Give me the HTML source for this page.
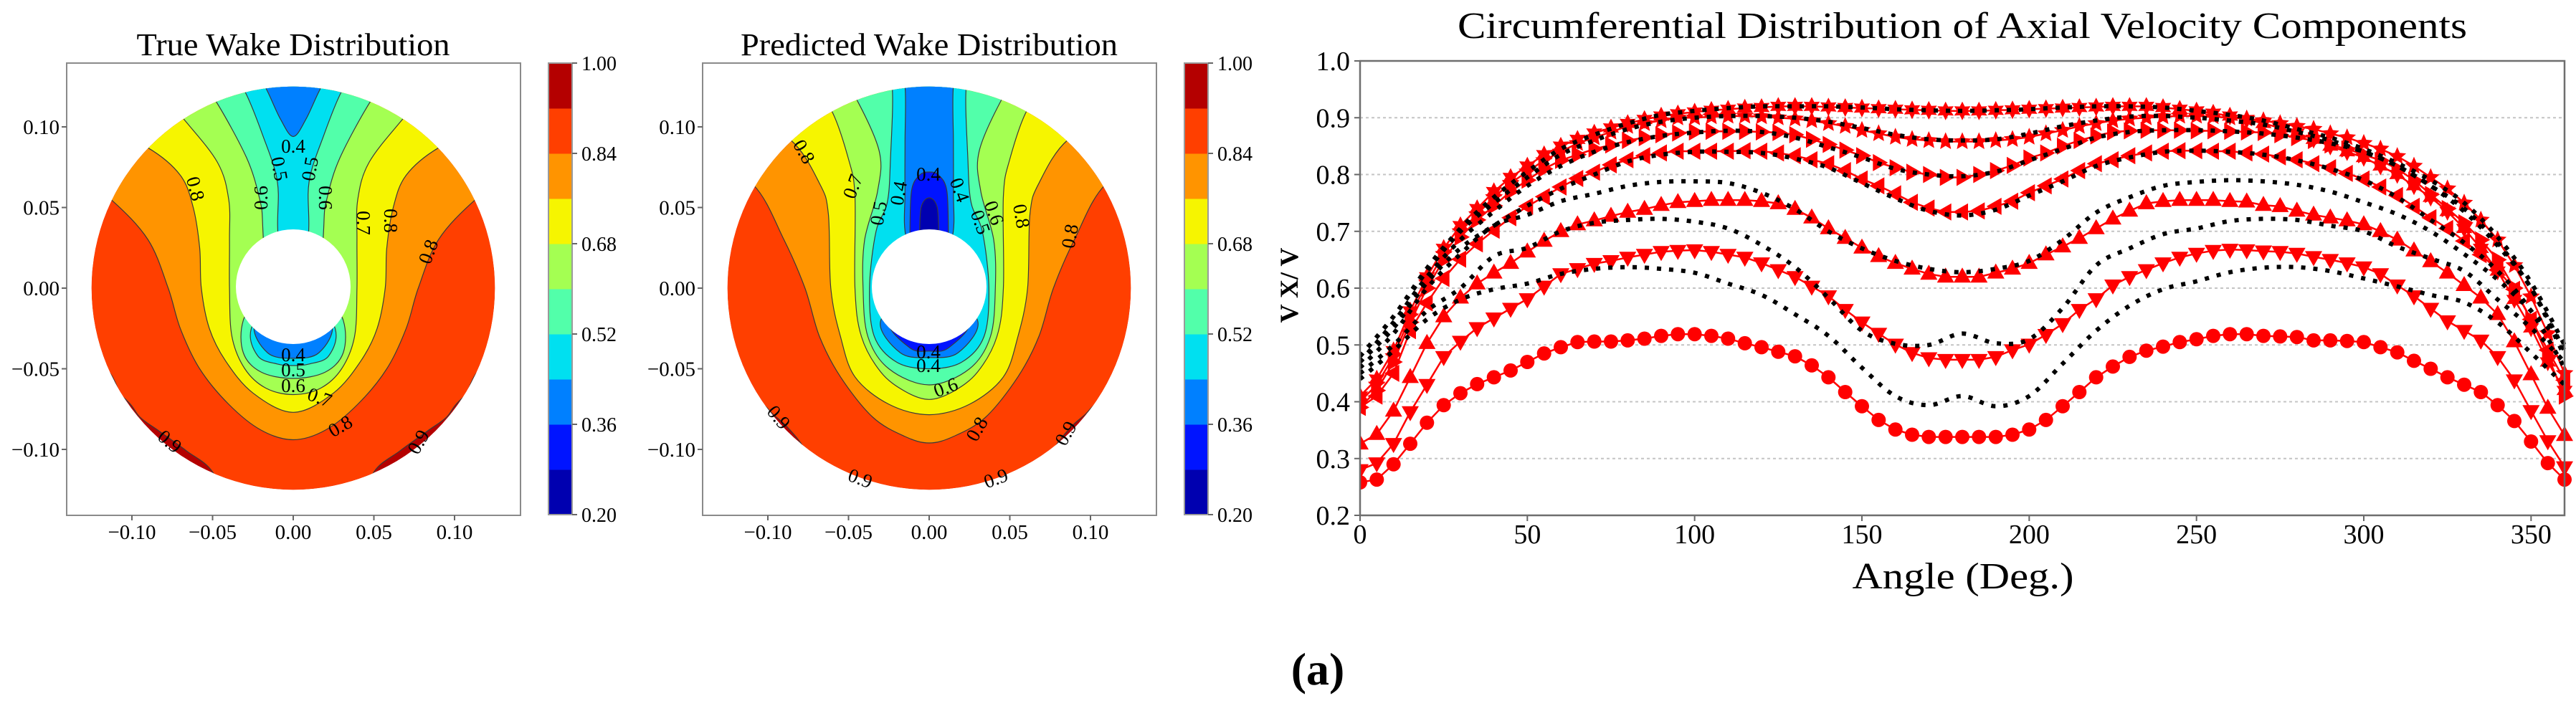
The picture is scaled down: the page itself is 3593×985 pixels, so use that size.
<!DOCTYPE html>
<html><head><meta charset="utf-8"><title>Wake Distribution</title>
<style>
html,body{margin:0;padding:0;background:#fff;}
svg{display:block;font-family:"Liberation Serif","Times New Roman",serif;}
</style></head>
<body>
<svg id="fig" xmlns="http://www.w3.org/2000/svg" width="3593" height="985" viewBox="0 0 3593 985">
<rect x="0" y="0" width="3593" height="985" fill="#fff"/>
<text x="409" y="77" font-size="44" text-anchor="middle" textLength="437" lengthAdjust="spacingAndGlyphs">True Wake Distribution</text>
<text x="1296" y="77" font-size="44" text-anchor="middle" textLength="526" lengthAdjust="spacingAndGlyphs">Predicted Wake Distribution</text>
<text x="2737" y="53" font-size="52" text-anchor="middle" textLength="1408" lengthAdjust="spacingAndGlyphs">Circumferential Distribution of Axial Velocity Components</text>
<text x="2738" y="821" font-size="52" text-anchor="middle" textLength="309" lengthAdjust="spacingAndGlyphs">Angle (Deg.)</text>
<text transform="translate(1810,398) rotate(-90)" font-size="36" font-weight="bold" text-anchor="middle">V X/ V</text>
<text x="1838" y="955" font-size="64" font-weight="bold" text-anchor="middle">(a)</text>
<g id="panels"></g>
<g id="chart"></g>
</svg>
<script>
// ===== Line chart data (angle every 5 deg for red, 10 deg for black) =====
const xTickLabels = [0,50,100,150,200,250,300,350];
const yTickLabels = [0.2,0.3,0.4,0.5,0.6,0.7,0.8,0.9,1.0];
const gridValues = [0.3,0.4,0.5,0.6,0.7,0.8,0.9];
const predAngles = Array.from({length:73},(_,i)=>i*5);
const trueAngles = Array.from({length:37},(_,i)=>i*10);
const predCircle = [0.258,0.263,0.29,0.326,0.363,0.394,0.415,0.431,0.443,0.455,0.47,0.485,0.496,0.505,0.506,0.506,0.508,0.511,0.516,0.519,0.519,0.516,0.511,0.503,0.496,0.488,0.48,0.464,0.443,0.417,0.392,0.368,0.351,0.342,0.338,0.338,0.338,
 0.338,0.338,0.342,0.351,0.368,0.392,0.417,0.443,0.462,0.479,0.49,0.497,0.505,0.51,0.516,0.519,0.519,0.516,0.515,0.514,0.508,0.508,0.507,0.505,0.496,0.487,0.472,0.458,0.443,0.43,0.417,0.394,0.366,0.33,0.292,0.263];
const predDown = [0.28,0.292,0.326,0.382,0.43,0.479,0.506,0.53,0.547,0.564,0.581,0.603,0.625,0.634,0.643,0.648,0.654,0.659,0.664,0.666,0.667,0.664,0.659,0.654,0.644,0.632,0.62,0.603,0.586,0.562,0.54,0.52,0.501,0.486,0.477,0.474,0.474,
 0.474,0.479,0.491,0.501,0.518,0.537,0.562,0.581,0.605,0.62,0.632,0.644,0.654,0.661,0.666,0.668,0.667,0.665,0.664,0.661,0.655,0.65,0.644,0.637,0.625,0.605,0.586,0.564,0.542,0.525,0.508,0.479,0.438,0.384,0.331,0.285];
const predUp = [0.326,0.343,0.384,0.443,0.503,0.55,0.583,0.608,0.627,0.644,0.664,0.683,0.70,0.712,0.719,0.727,0.734,0.739,0.746,0.751,0.753,0.755,0.755,0.755,0.753,0.749,0.739,0.724,0.705,0.688,0.671,0.656,0.644,0.634,0.625,0.62,0.62,
 0.62,0.627,0.634,0.644,0.659,0.673,0.688,0.705,0.722,0.736,0.749,0.753,0.755,0.755,0.755,0.753,0.752,0.746,0.744,0.736,0.729,0.724,0.719,0.712,0.70,0.685,0.666,0.647,0.627,0.605,0.583,0.554,0.506,0.448,0.389,0.341];
const predLeft = [0.39,0.41,0.45,0.525,0.574,0.617,0.651,0.678,0.702,0.724,0.744,0.761,0.778,0.793,0.804,0.817,0.826,0.833,0.838,0.841,0.841,0.841,0.841,0.842,0.841,0.838,0.833,0.826,0.819,0.807,0.792,0.78,0.766,0.751,0.741,0.734,0.734,
 0.736,0.744,0.753,0.768,0.78,0.792,0.807,0.819,0.826,0.833,0.838,0.841,0.842,0.842,0.841,0.841,0.838,0.836,0.831,0.826,0.819,0.812,0.802,0.792,0.778,0.763,0.744,0.724,0.705,0.683,0.659,0.632,0.598,0.545,0.491,0.438];
const predRight = [0.39,0.42,0.47,0.54,0.60,0.65,0.69,0.72,0.745,0.77,0.79,0.81,0.825,0.835,0.845,0.852,0.86,0.865,0.87,0.873,0.875,0.876,0.876,0.876,0.875,0.874,0.87,0.862,0.853,0.843,0.833,0.821,0.812,0.804,0.80,0.795,0.795,
 0.80,0.807,0.816,0.829,0.838,0.85,0.86,0.868,0.875,0.877,0.878,0.878,0.878,0.877,0.877,0.876,0.875,0.874,0.87,0.865,0.86,0.852,0.845,0.835,0.825,0.81,0.79,0.765,0.74,0.715,0.685,0.65,0.60,0.545,0.48,0.41];
const predStar = [0.40,0.43,0.48,0.55,0.61,0.66,0.70,0.73,0.76,0.785,0.805,0.825,0.84,0.855,0.865,0.875,0.885,0.89,0.895,0.9,0.9,0.902,0.903,0.903,0.902,0.9,0.898,0.895,0.89,0.885,0.878,0.872,0.866,0.862,0.86,0.858,0.858,
 0.858,0.86,0.862,0.866,0.872,0.878,0.885,0.89,0.895,0.898,0.9,0.902,0.903,0.903,0.902,0.9,0.898,0.895,0.89,0.885,0.88,0.872,0.865,0.855,0.845,0.832,0.815,0.795,0.775,0.75,0.72,0.685,0.64,0.585,0.52,0.45];
const predTop = [0.41,0.44,0.49,0.56,0.62,0.67,0.71,0.74,0.77,0.795,0.815,0.835,0.85,0.862,0.873,0.882,0.89,0.897,0.903,0.907,0.91,0.913,0.915,0.917,0.918,0.92,0.92,0.92,0.919,0.918,0.917,0.916,0.915,0.914,0.913,0.912,0.912,
 0.912,0.913,0.914,0.915,0.916,0.917,0.918,0.919,0.92,0.92,0.92,0.918,0.915,0.912,0.908,0.903,0.897,0.89,0.882,0.873,0.862,0.85,0.84,0.83,0.815,0.80,0.78,0.76,0.735,0.705,0.67,0.63,0.58,0.53,0.47,0.42];
const trueA = [0.44,0.49,0.545,0.58,0.598,0.608,0.625,0.634,0.637,0.634,0.627,0.608,0.588,0.554,0.516,0.46,0.41,0.394,0.41,0.392,0.41,0.467,0.525,0.569,0.598,0.612,0.628,0.636,0.637,0.63,0.617,0.603,0.588,0.575,0.54,0.486,0.43];
const trueB = [0.45,0.50,0.56,0.60,0.656,0.671,0.70,0.715,0.72,0.722,0.717,0.705,0.676,0.637,0.583,0.525,0.502,0.50,0.52,0.503,0.51,0.565,0.64,0.67,0.695,0.705,0.718,0.722,0.72,0.71,0.70,0.673,0.652,0.63,0.58,0.53,0.47];
const trueC = [0.46,0.52,0.60,0.66,0.71,0.729,0.753,0.766,0.78,0.787,0.788,0.785,0.768,0.739,0.70,0.67,0.648,0.634,0.628,0.634,0.648,0.685,0.733,0.76,0.78,0.787,0.79,0.788,0.782,0.77,0.751,0.73,0.70,0.66,0.615,0.56,0.5];
const trueD = [0.47,0.53,0.61,0.67,0.71,0.745,0.775,0.80,0.823,0.835,0.84,0.84,0.838,0.828,0.812,0.785,0.758,0.736,0.728,0.738,0.763,0.788,0.815,0.83,0.84,0.842,0.84,0.835,0.825,0.81,0.79,0.76,0.72,0.68,0.63,0.56,0.46];
const trueE = [0.47,0.54,0.62,0.685,0.735,0.78,0.815,0.84,0.857,0.868,0.874,0.877,0.875,0.865,0.848,0.83,0.81,0.80,0.797,0.805,0.825,0.845,0.865,0.875,0.878,0.878,0.876,0.872,0.865,0.855,0.84,0.815,0.78,0.735,0.675,0.6,0.48];
const trueF = [0.48,0.55,0.63,0.70,0.75,0.795,0.835,0.86,0.88,0.893,0.9,0.903,0.903,0.9,0.893,0.882,0.87,0.862,0.86,0.862,0.872,0.885,0.895,0.902,0.903,0.9,0.895,0.888,0.875,0.86,0.84,0.815,0.78,0.74,0.68,0.6,0.49];
const trueG = [0.48,0.55,0.635,0.705,0.76,0.805,0.845,0.87,0.89,0.905,0.912,0.917,0.92,0.92,0.92,0.918,0.915,0.913,0.912,0.913,0.915,0.918,0.92,0.92,0.918,0.912,0.905,0.895,0.88,0.865,0.845,0.82,0.79,0.75,0.69,0.61,0.5];

// ===== Contour colour levels =====
const cbarLevels = [0.20,0.28,0.36,0.44,0.52,0.60,0.68,0.76,0.84,0.92,1.00];
const cbarTickLabels = ["0.20","0.36","0.52","0.68","0.84","1.00"];
const bandColors = ["#0000b0","#0014ff","#0080ff","#00e0f0","#52ffaa","#a4ff52","#f6f500","#ff9400","#ff3f00","#b40000"];
const panelTickLabels = ["-0.10","-0.05","0.00","0.05","0.10"];

const NS="http://www.w3.org/2000/svg";
function mk(tag,attrs,parent){const e=document.createElementNS(NS,tag);for(const k in attrs)e.setAttribute(k,attrs[k]);if(parent)parent.appendChild(e);return e;}

// ===== Right chart axes =====
const X0=1897,X1=3577,YT=85,YB=719;
const xs=a=>X0+a/360*(X1-X0);
const ys=v=>YB-(v-0.2)/0.8*(YB-YT);
const chart=document.getElementById('chart');

gridValues.forEach(v=>{
  const l=mk('line',{x1:X0,x2:X1,y1:ys(v),y2:ys(v),stroke:'#c4c4c4','stroke-width':2,'stroke-dasharray':'4 4'},chart);
  
  
});
yTickLabels.forEach(v=>{
  const t=mk('line',{x1:X0-8,x2:X0,y1:ys(v),y2:ys(v),stroke:'#666','stroke-width':2},chart);
  
  
  const tx=mk('text',{x:1883,y:ys(v)+13,'font-size':38,'text-anchor':'end'},chart);
  
  
  tx.textContent=v.toFixed(1);
});
xTickLabels.forEach(a=>{
  const t=mk('line',{x1:xs(a),x2:xs(a),y1:YB,y2:YB+8,stroke:'#666','stroke-width':2},chart);
  
  
  const tx=mk('text',{x:xs(a),y:758,'font-size':38,'text-anchor':'middle'},chart);
  
  
  tx.textContent=String(a);
});

function crPath(pts){
  let d='M'+pts[0][0].toFixed(1)+','+pts[0][1].toFixed(1);
  for(let i=0;i<pts.length-1;i++){
    const p0=pts[Math.max(0,i-1)],p1=pts[i],p2=pts[i+1],p3=pts[Math.min(pts.length-1,i+2)];
    const c1=[p1[0]+(p2[0]-p0[0])/6,p1[1]+(p2[1]-p0[1])/6];
    const c2=[p2[0]-(p3[0]-p1[0])/6,p2[1]-(p3[1]-p1[1])/6];
    d+='C'+c1[0].toFixed(1)+','+c1[1].toFixed(1)+' '+c2[0].toFixed(1)+','+c2[1].toFixed(1)+' '+p2[0].toFixed(1)+','+p2[1].toFixed(1);
  }
  return d;
}
function starPts(n,ro,ri){const a=[];for(let i=0;i<2*n;i++){const r=i%2?ri:ro,t=Math.PI*i/n-Math.PI/2;a.push((r*Math.cos(t)).toFixed(1)+','+(r*Math.sin(t)).toFixed(1));}return a.join(' ');}
const markerShapes={
  circle:null,
  up:'0,-13 12,8 -12,8',
  down:'0,13 12,-8 -12,-8',
  left:'-13,0 8,-12 8,12',
  right:'13,0 -8,-12 -8,12',
  star:starPts(5,13,6),
  hex:starPts(6,13,7)
};
const plotG=mk('g',{'clip-path':'url(#plotClip)'},chart);


const defs=mk('defs',{},document.getElementById('fig'));
const pc=mk('clipPath',{id:'plotClip'},defs);
mk('rect',{x:X0,y:YT-20,width:X1-X0+14,height:YB-YT+20},pc);

const predSeries=[[predCircle,'circle'],[predDown,'down'],[predUp,'up'],[predLeft,'left'],[predRight,'right'],[predStar,'star'],[predTop,'hex']];
predSeries.forEach(([vals,m],si)=>{
  const g=mk('g',{},plotG);
  
  
  const pts=vals.map((v,i)=>[xs(predAngles[i]),ys(v)]);
  const pl=mk('polyline',{points:pts.map(p=>p[0].toFixed(1)+','+p[1].toFixed(1)).join(' '),fill:'none',stroke:'#ff0000','stroke-width':2.5},g);
  
  
  pts.forEach(p=>{
    let e;
    if(m==='circle') e=mk('circle',{cx:p[0].toFixed(1),cy:p[1].toFixed(1),r:10,fill:'#ff0000'},g);
    else e=mk('polygon',{points:markerShapes[m],transform:'translate('+p[0].toFixed(1)+','+p[1].toFixed(1)+')',fill:'#ff0000'},g);
    
    
  });
});
[trueA,trueB,trueC,trueD,trueE,trueF,trueG].forEach((vals,si)=>{
  const pts=vals.map((v,i)=>[xs(trueAngles[i]),ys(v)]);
  const p=mk('path',{d:crPath(pts),fill:'none',stroke:'#000','stroke-width':6,'stroke-dasharray':'6 11'},plotG);
  
  
});
const frame=mk('rect',{x:X0,y:YT,width:X1-X0,height:YB-YT,fill:'none',stroke:'#6e6e6e','stroke-width':2.5},chart);



// ===== Contour panels =====
const S=2250;
const trueShapes=[
 [0.92,[[-0.3,0.2],[-0.3,-0.04],[-0.14,-0.04],[-0.105,-0.068],[-0.095,-0.08],[-0.083,-0.0887],[-0.066,-0.101],[-0.05,-0.114],[-0.04,-0.14],[0,-0.17]]],
 [0.84,[[-0.3,0.2],[-0.3,0.09],[-0.14,0.075],[-0.113,0.055],[-0.09,0.03],[-0.0775,0],[-0.07,-0.025],[-0.058,-0.05],[-0.04,-0.072],[-0.02,-0.088],[0,-0.094]]],
 [0.76,[[-0.2,0.2],[-0.2,0.11],[-0.12,0.1],[-0.09,0.087],[-0.07,0.07],[-0.062,0.05],[-0.058,0.025],[-0.057,0],[-0.052,-0.025],[-0.042,-0.045],[-0.025,-0.065],[0,-0.077]]],
 [0.68,[[-0.15,0.2],[-0.09,0.13],[-0.068,0.105],[-0.047,0.078],[-0.04,0.055],[-0.0395,0.03],[-0.0395,0],[-0.038,-0.03],[-0.03,-0.05],[-0.017,-0.062],[0,-0.066]]],
 [0.60,[[-0.1,0.2],[-0.06,0.13],[-0.048,0.116],[-0.029,0.081],[-0.021,0.056],[-0.019,0.04],[-0.019,0],[-0.031,-0.02],[-0.031,-0.04],[-0.02,-0.052],[0,-0.056]]],
 [0.52,[[-0.08,0.2],[-0.04,0.135],[-0.03,0.122],[-0.019,0.095],[-0.01,0.067],[-0.0097,0.04],[-0.01,0],[-0.026,-0.025],[-0.022,-0.042],[-0.01,-0.047],[0,-0.048]]],
 [0.44,[[-0.05,0.2],[-0.025,0.135],[-0.017,0.124],[-0.008,0.105],[0,0.094]]],
 [0.44,[[-0.005,0],[-0.024,-0.022],[-0.016,-0.04],[0,-0.0435]]]
];
const predShapes=[
 [0.92,[[-0.3,0.2],[-0.3,-0.04],[-0.14,-0.04],[-0.106,-0.069],[-0.097,-0.078],[-0.088,-0.086],[-0.077,-0.1],[-0.06,-0.13],[0,-0.17]]],
 [0.84,[[-0.3,0.2],[-0.3,0.09],[-0.14,0.08],[-0.109,0.064],[-0.09,0.03],[-0.077,0],[-0.068,-0.03],[-0.055,-0.055],[-0.035,-0.08],[-0.015,-0.092],[0,-0.096]]],
 [0.76,[[-0.2,0.2],[-0.12,0.11],[-0.086,0.092],[-0.068,0.065],[-0.0625,0.046],[-0.061,0],[-0.055,-0.03],[-0.046,-0.055],[-0.025,-0.072],[0,-0.0785]]],
 [0.68,[[-0.15,0.2],[-0.075,0.125],[-0.061,0.111],[-0.05,0.08],[-0.046,0.057],[-0.046,0],[-0.042,-0.03],[-0.03,-0.052],[-0.015,-0.064],[0,-0.069]]],
 [0.60,[[-0.1,0.2],[-0.055,0.13],[-0.046,0.119],[-0.031,0.085],[-0.032,0.06],[-0.04,0.03],[-0.041,0],[-0.038,-0.03],[-0.025,-0.05],[0,-0.06]]],
 [0.52,[[-0.08,0.2],[-0.03,0.135],[-0.023,0.125],[-0.024,0.08],[-0.026,0.053],[-0.033,0.035],[-0.037,0],[-0.034,-0.03],[-0.02,-0.046],[0,-0.05]]],
 [0.44,[[-0.05,0.2],[-0.02,0.135],[-0.015,0.125],[-0.015,0.09],[-0.015,0.06],[-0.014,0.03],[0,0]]],
 [0.36,[[-0.012,0.03],[-0.011,0.06],[-0.006,0.07],[0,0.072]]],
 [0.28,[[-0.006,0.03],[-0.005,0.05],[0,0.056]]],
 [0.44,[[-0.005,0],[-0.03,-0.02],[-0.018,-0.04],[0,-0.043]]],
 [0.36,[[-0.004,0],[-0.025,-0.02],[-0.012,-0.037],[0,-0.039]]]
];
const trueLabels=[["0.4",409,207,0],["0.5",387,236,80],["0.5",435,236,-80],["0.6",367,276,-90],["0.6",451,276,90],["0.8",270,264,75],["0.7",504,311,90],["0.8",542,308,90],["0.8",600,352,-70],["0.4",409,498,0],["0.5",409,519,0],["0.6",409,541,0],["0.7",445,557,20],["0.8",476,597,-30],["0.9",235,618,40],["0.9",586,618,-60]];
const predLabels=[["0.8",1119,213,60],["0.7",1192,261,-70],["0.4",1295,246,0],["0.5",1228,298,-80],["0.4",1256,270,-80],["0.4",1336,266,70],["0.6",1384,298,70],["0.5",1365,311,70],["0.8",1422,302,80],["0.8",1495,330,-80],["0.4",1295,494,0],["0.4",1295,513,0],["0.6",1320,543,-20],["0.8",1365,600,-60],["0.9",1084,584,50],["0.9",1489,606,-60],["0.9",1199,670,20],["0.9",1390,670,-20]];

function bandColorFor(level){const i=cbarLevels.findIndex(l=>Math.abs(l-level)<1e-6);return bandColors[i-1];}
function shapePath(cx,cy,pts){
  const full=pts.slice();
  for(let i=pts.length-1;i>=0;i--){ if(i===pts.length-1&&pts[i][0]===0)continue; full.push([-pts[i][0],pts[i][1]]); }
  return crPath(full.map(p=>[cx+p[0]*S,cy-p[1]*S]))+'Z';
}
const panels=document.getElementById('panels');
function drawPanel(id,bx,cx,cy,shapes,labels){
  const g=mk('g',{},panels);
  
  
  const cp=mk('clipPath',{id:id+'Clip'},defs);
  mk('circle',{cx:cx,cy:cy,r:0.125*S},cp);
  const box=mk('rect',{x:bx,y:88,width:633,height:631,fill:'none',stroke:'#8a8a8a','stroke-width':2},g);
  
  
  const cg=mk('g',{'clip-path':'url(#'+id+'Clip)'},g);
  
  
  const base=mk('circle',{cx:cx,cy:cy,r:0.125*S,fill:bandColors[9]},cg);
  
  
  shapes.forEach(([lv,pts])=>{
    const p=mk('path',{d:shapePath(cx,cy,pts),fill:bandColorFor(lv),stroke:'#3a3a3a','stroke-width':1.2},cg);
    
    
  });
  const hub=mk('circle',{cx:cx,cy:cy-2,r:80,fill:'#fff'},g);
  
  
  labels.forEach(([t,x,y,r])=>{
    const tx=mk('text',{x:x,y:y,'font-size':27,'text-anchor':'middle','dominant-baseline':'middle',transform:'rotate('+r+' '+x+' '+y+')'},g);
    
    
    tx.textContent=t;
  });
  const tickVals=[-0.1,-0.05,0,0.05,0.1];
  tickVals.forEach((v,i)=>{
    const lab=panelTickLabels[i].replace('-','\u2212');
    const xt=mk('line',{x1:cx+v*S,x2:cx+v*S,y1:719,y2:726,stroke:'#666','stroke-width':2},g);
    
    
    const xl=mk('text',{x:cx+v*S,y:752,'font-size':29,'text-anchor':'middle'},g);
    
    
    xl.textContent=lab;
    const yt=mk('line',{x1:bx-7,x2:bx,y1:cy-v*S,y2:cy-v*S,stroke:'#666','stroke-width':2},g);
    
    
    const yl=mk('text',{x:bx-10,y:cy-v*S+10,'font-size':29,'text-anchor':'end'},g);
    
    
    yl.textContent=lab;
  });
  const cbx=bx+672,cbTop=88,cbH=630;
  const cb=mk('g',{},g);
  
  
  for(let i=0;i<10;i++){
    const y0=cbTop+(1-cbarLevels[i+1])/0.8*cbH, y1=cbTop+(1-cbarLevels[i])/0.8*cbH;
    const r=mk('rect',{x:cbx,y:y0,width:33,height:y1-y0+0.5,fill:bandColors[i]},cb);
    
    
  }
  const cbf=mk('rect',{x:cbx,y:cbTop,width:33,height:cbH,fill:'none',stroke:'#9a9a9a','stroke-width':2},cb);
  
  
  cbarTickLabels.forEach(s=>{
    const v=parseFloat(s), y=cbTop+(1-v)/0.8*cbH;
    const t=mk('line',{x1:cbx+33,x2:cbx+40,y1:y,y2:y,stroke:'#666','stroke-width':2},cb);
    
    
    const l=mk('text',{x:cbx+46,y:y+10,'font-size':28},cb);
    
    
    l.textContent=s;
  });
}
drawPanel('true-wake',93,409,402,trueShapes,trueLabels);
drawPanel('predicted-wake',980,1296,402,predShapes,predLabels);
</script>
</body></html>
